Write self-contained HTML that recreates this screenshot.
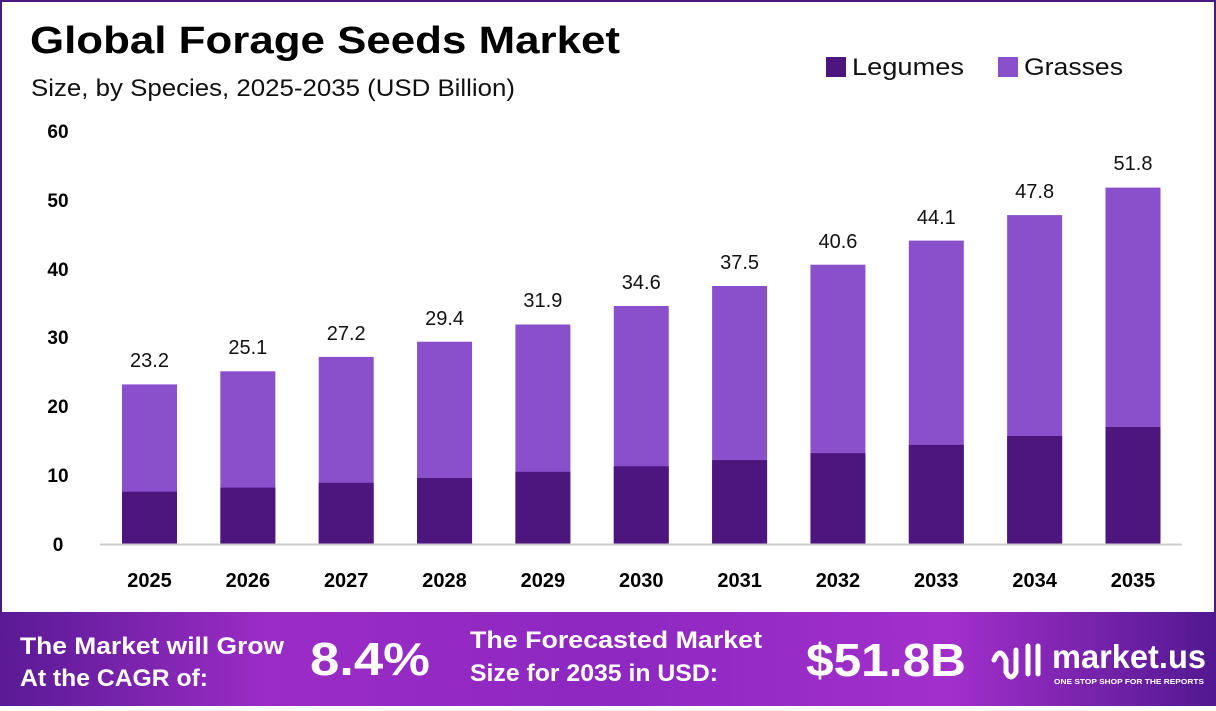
<!DOCTYPE html>
<html><head><meta charset="utf-8"><style>
html,body{margin:0;padding:0;}
body{width:1216px;height:706px;overflow:hidden;font-family:"Liberation Sans",sans-serif;}
</style></head><body>
<svg width="1216" height="706" xmlns="http://www.w3.org/2000/svg" font-family="Liberation Sans, sans-serif">
<defs>
<linearGradient id="fg" x1="0" x2="1" y1="0" y2="0">
<stop offset="0" stop-color="#5a1a95"/>
<stop offset="0.22" stop-color="#9b2cc6"/>
<stop offset="0.5" stop-color="#8d28c0"/>
<stop offset="0.78" stop-color="#a22fcc"/>
<stop offset="1" stop-color="#521890"/>
</linearGradient>
</defs>
<rect x="0" y="0" width="1216" height="706" fill="#fff"/>
<rect x="1" y="1" width="1214" height="704" fill="none" stroke="#4b1a7f" stroke-width="2"/>
<text x="30" y="53" font-size="38" font-weight="bold" fill="#000" textLength="590" lengthAdjust="spacingAndGlyphs">Global Forage Seeds Market</text>
<text x="31" y="96" font-size="24" fill="#111" textLength="484" lengthAdjust="spacingAndGlyphs">Size, by Species, 2025-2035 (USD Billion)</text>
<rect x="826" y="57" width="20" height="20" fill="#4d157e"/>
<text x="852" y="75" font-size="24" fill="#111" textLength="112" lengthAdjust="spacingAndGlyphs">Legumes</text>
<rect x="998" y="57" width="20" height="20" fill="#8a4fcb"/>
<text x="1024" y="75" font-size="24" fill="#111" textLength="99" lengthAdjust="spacingAndGlyphs">Grasses</text>
<g font-size="19" font-weight="bold" fill="#000" text-anchor="middle">
<text x="58" y="138">60</text><text x="58" y="207">50</text><text x="58" y="276">40</text>
<text x="58" y="344">30</text><text x="58" y="413">20</text><text x="58" y="482">10</text><text x="58" y="551">0</text>
</g>
<g fill="#8a4fcb">
<rect x="122" y="384.4" width="55" height="159.6"/>
<rect x="220.35" y="371.3" width="55" height="172.7"/>
<rect x="318.7" y="356.9" width="55" height="187.1"/>
<rect x="417.05" y="341.7" width="55" height="202.3"/>
<rect x="515.4" y="324.5" width="55" height="219.5"/>
<rect x="613.75" y="306" width="55" height="238"/>
<rect x="712.1" y="286" width="55" height="258"/>
<rect x="810.45" y="264.7" width="55" height="279.3"/>
<rect x="908.8" y="240.6" width="55" height="303.4"/>
<rect x="1007.15" y="215.1" width="55" height="328.9"/>
<rect x="1105.5" y="187.6" width="55" height="356.4"/>
</g>
<g fill="#4d157e">
<rect x="122" y="491.7" width="55" height="52.3"/>
<rect x="220.35" y="487.6" width="55" height="56.4"/>
<rect x="318.7" y="482.8" width="55" height="61.2"/>
<rect x="417.05" y="478" width="55" height="66"/>
<rect x="515.4" y="471.8" width="55" height="72.2"/>
<rect x="613.75" y="466.3" width="55" height="77.7"/>
<rect x="712.1" y="460.1" width="55" height="83.9"/>
<rect x="810.45" y="453.2" width="55" height="90.8"/>
<rect x="908.8" y="444.9" width="55" height="99.1"/>
<rect x="1007.15" y="436" width="55" height="108"/>
<rect x="1105.5" y="427" width="55" height="117"/>
</g>
<g font-size="20" text-anchor="middle" fill="#111">
<text x="149.5" y="367">23.2</text>
<text x="247.85" y="354">25.1</text>
<text x="346.2" y="340">27.2</text>
<text x="444.55" y="325">29.4</text>
<text x="542.9" y="307">31.9</text>
<text x="641.25" y="289">34.6</text>
<text x="739.6" y="269">37.5</text>
<text x="837.95" y="248">40.6</text>
<text x="936.3" y="224">44.1</text>
<text x="1034.65" y="198">47.8</text>
<text x="1133" y="170">51.8</text>
</g>
<g font-size="20" font-weight="bold" text-anchor="middle" fill="#000">
<text x="149.5" y="587">2025</text>
<text x="247.85" y="587">2026</text>
<text x="346.2" y="587">2027</text>
<text x="444.55" y="587">2028</text>
<text x="542.9" y="587">2029</text>
<text x="641.25" y="587">2030</text>
<text x="739.6" y="587">2031</text>
<text x="837.95" y="587">2032</text>
<text x="936.3" y="587">2033</text>
<text x="1034.65" y="587">2034</text>
<text x="1133" y="587">2035</text>
</g>
<line x1="100" y1="544.5" x2="1182" y2="544.5" stroke="#ccc" stroke-width="2"/>
<rect x="0" y="612" width="1216" height="94" fill="url(#fg)"/>
<g fill="#fff" font-weight="bold">
<text x="20" y="654" font-size="24" textLength="264" lengthAdjust="spacingAndGlyphs">The Market will Grow</text>
<text x="20" y="686" font-size="24" textLength="188" lengthAdjust="spacingAndGlyphs">At the CAGR of:</text>
<text x="310" y="675" font-size="46" textLength="120" lengthAdjust="spacingAndGlyphs">8.4%</text>
<text x="470" y="648" font-size="24" textLength="292" lengthAdjust="spacingAndGlyphs">The Forecasted Market</text>
<text x="470" y="681" font-size="24" textLength="248" lengthAdjust="spacingAndGlyphs">Size for 2035 in USD:</text>
<text x="806" y="676" font-size="46" textLength="160" lengthAdjust="spacingAndGlyphs">$51.8B</text>
<text x="1052" y="668" font-size="33" textLength="154" lengthAdjust="spacingAndGlyphs">market.us</text>
<text x="1054" y="684" font-size="7.5" textLength="150" lengthAdjust="spacingAndGlyphs">ONE STOP SHOP FOR THE REPORTS</text>
</g>
<path d="M994 660 q6 -14 12 0 v12 q5 10 10 0 v-22 M1028 646 v28 M1038 646 v28" stroke="#fff" stroke-width="5" fill="none" stroke-linecap="round"/>
</svg>
</body></html>
